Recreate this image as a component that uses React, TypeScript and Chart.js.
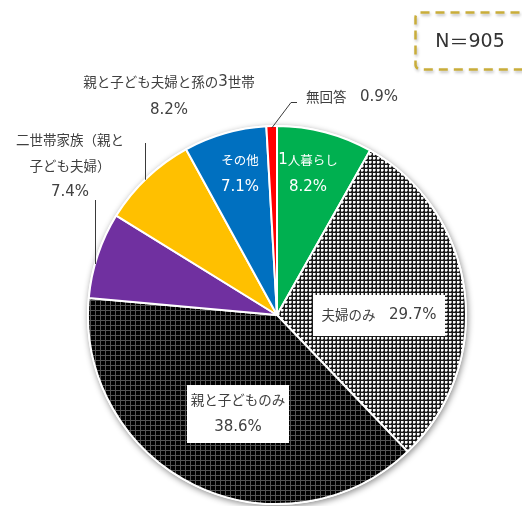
import React, { useEffect, useRef } from "react";
import { Chart, registerables } from "chart.js";

Chart.register(...registerables);

// ---- data ----
const categories = [
  "1人暮らし",
  "夫婦のみ",
  "親と子どものみ",
  "二世帯家族（親と子ども夫婦）",
  "親と子ども夫婦と孫の3世帯",
  "その他",
  "無回答",
];
const shares = [8.2, 29.7, 38.6, 7.4, 8.2, 7.1, 0.9];
const sampleSize = 905;

// ---- styles ----
const CJK_FONT = '"Noto Sans CJK JP", sans-serif';
const LAT_FONT = '"DejaVu Sans", "Noto Sans CJK JP", sans-serif';
const TEXT = "#404040";
const pct = (i: number) => `${shares[i].toFixed(1)}%`;

type LabelSpec = {
  lines: string[];
  dx: number; // centre offset from pie centre
  dy: number; // first line offset from pie centre
  gap: number;
  color: string;
  cjk: number;
  lat: number;
  box?: { w: number; h: number };
  leader?: { kind: "elbow" | "vertical"; slice: number; dx: number; dy: number; hx?: number };
};

function makeLabels(): LabelSpec[] {
  return [
    { lines: [categories[0], pct(0)], dx: 31, dy: -155, gap: 27, color: "#ffffff", cjk: 12.5, lat: 15 },
    { lines: [categories[5], pct(5)], dx: -37, dy: -155, gap: 27, color: "#ffffff", cjk: 12.5, lat: 15 },
    {
      lines: [`${categories[1]}　${pct(1)}`],
      dx: 102,
      dy: 0,
      gap: 0,
      color: TEXT,
      cjk: 13.5,
      lat: 15,
      box: { w: 132, h: 41 },
    },
    {
      lines: [categories[2], pct(2)],
      dx: -39,
      dy: 85,
      gap: 27,
      color: TEXT,
      cjk: 13.5,
      lat: 15,
      box: { w: 102, h: 58 },
    },
    {
      lines: [categories[4], pct(4)],
      dx: -108,
      dy: -233,
      gap: 28,
      color: TEXT,
      cjk: 13.5,
      lat: 15,
      leader: { kind: "vertical", slice: 4, dx: -132, dy: -172 },
    },
    {
      lines: ["二世帯家族（親と", "子ども夫婦）", pct(3)],
      dx: -207,
      dy: -175,
      gap: 26,
      color: TEXT,
      cjk: 13.5,
      lat: 15,
      leader: { kind: "vertical", slice: 3, dx: -182, dy: -115 },
    },
    {
      lines: [`${categories[6]}　${pct(6)}`],
      dx: 75,
      dy: -218,
      gap: 0,
      color: TEXT,
      cjk: 13.5,
      lat: 15,
      leader: { kind: "elbow", slice: 6, dx: 14, dy: -213, hx: 20 },
    },
  ];
}

function splitRuns(text: string) {
  const runs: { t: string; lat: boolean }[] = [];
  for (const ch of text) {
    const lat = ch.charCodeAt(0) < 128;
    const last = runs[runs.length - 1];
    if (last && last.lat === lat) last.t += ch;
    else runs.push({ t: ch, lat });
  }
  return runs;
}

function drawRich(
  ctx: CanvasRenderingContext2D,
  text: string,
  x: number,
  y: number,
  cjk: number,
  lat: number
) {
  const runs = splitRuns(text);
  let total = 0;
  const widths = runs.map((r) => {
    ctx.font = r.lat ? `${lat}px ${LAT_FONT}` : `${cjk}px ${CJK_FONT}`;
    const w = ctx.measureText(r.t).width;
    total += w;
    return w;
  });
  let cur = x - total / 2;
  ctx.textAlign = "left";
  ctx.textBaseline = "middle";
  runs.forEach((r, i) => {
    ctx.font = r.lat ? `${lat}px ${LAT_FONT}` : `${cjk}px ${CJK_FONT}`;
    ctx.fillText(r.t, cur, y);
    cur += widths[i];
  });
}

function makePattern(size: number, draw: (c: CanvasRenderingContext2D) => void) {
  const cv = document.createElement("canvas");
  cv.width = size;
  cv.height = size;
  const c = cv.getContext("2d")!;
  draw(c);
  return c.createPattern(cv, "repeat")!;
}

export default function App() {
  const ref = useRef<HTMLCanvasElement>(null);

  useEffect(() => {
    document.body.style.margin = "0";
    const canvas = ref.current!;
    const ctx0 = canvas.getContext("2d")!;

    const dots = makePattern(4, (c) => {
      c.fillStyle = "#1a1a1a";
      c.fillRect(0, 0, 4, 4);
      c.fillStyle = "#ffffff";
      c.fillRect(1, 1, 2, 2);
      c.fillStyle = "#9a9a9a";
      c.fillRect(1, 3, 2, 1);
      c.fillRect(3, 1, 1, 2);
    });
    const grid = makePattern(5, (c) => {
      c.fillStyle = "#000";
      c.fillRect(0, 0, 5, 5);
      c.fillStyle = "#555";
      c.fillRect(0, 0, 5, 1);
      c.fillRect(0, 0, 1, 5);
    });

    const labels = makeLabels();

    const shadowPlugin = {
      id: "pieShadow",
      beforeDatasetsDraw(chart: any) {
        const arc = chart.getDatasetMeta(0).data[0] as any;
        if (!arc) return;
        const ctx = chart.ctx as CanvasRenderingContext2D;
        ctx.save();
        ctx.beginPath();
        ctx.arc(arc.x, arc.y, arc.outerRadius + 1, 0, Math.PI * 2);
        ctx.fillStyle = "#fff";
        ctx.shadowColor = "rgba(0,0,0,0.45)";
        ctx.shadowBlur = 6;
        ctx.shadowOffsetX = 1;
        ctx.shadowOffsetY = 2;
        ctx.fill();
        ctx.restore();
      },
    };

    const labelPlugin = {
      id: "pieLabels",
      afterDatasetsDraw(chart: any) {
        const meta = chart.getDatasetMeta(0);
        const a0 = meta.data[0] as any;
        if (!a0) return;
        const cx = a0.x;
        const cy = a0.y;
        const r = a0.outerRadius;
        const ctx = chart.ctx as CanvasRenderingContext2D;
        ctx.save();

        for (const L of labels) {
          const x = cx + L.dx;
          const y0 = cy + L.dy;
          if (L.box) {
            const h = L.box.h;
            const midY = y0 + ((L.lines.length - 1) * L.gap) / 2;
            ctx.fillStyle = "#fff";
            ctx.fillRect(Math.round(x - L.box.w / 2), Math.round(midY - h / 2), L.box.w, h);
          }
          if (L.leader) {
            const ld = L.leader;
            ctx.strokeStyle = "#3a3a3a";
            ctx.lineWidth = 1;
            ctx.beginPath();
            if (ld.kind === "vertical") {
              const px = cx + ld.dx;
              const py = cy - Math.sqrt(Math.max(r * r - ld.dx * ld.dx, 0));
              ctx.moveTo(px + 0.5, cy + ld.dy);
              ctx.lineTo(px + 0.5, py);
            } else {
              const s = meta.data[ld.slice] as any;
              const mid = (s.startAngle + s.endAngle) / 2;
              const px = cx + Math.cos(mid) * (r - 2);
              const py = cy + Math.sin(mid) * (r - 2);
              ctx.moveTo(cx + (ld.hx ?? ld.dx), cy + ld.dy + 0.5);
              ctx.lineTo(cx + ld.dx, cy + ld.dy + 0.5);
              ctx.lineTo(px, py);
            }
            ctx.stroke();
          }
          ctx.fillStyle = L.color;
          L.lines.forEach((t, k) => drawRich(ctx, t, x, y0 + k * L.gap, L.cjk, L.lat));
        }

        // N box
        const bx = 415.5, by = 12.5, bw = 120, bh = 57;
        ctx.save();
        ctx.shadowColor = "rgba(0,0,0,0.25)";
        ctx.shadowBlur = 3;
        ctx.shadowOffsetX = 1;
        ctx.shadowOffsetY = 2;
        ctx.setLineDash([9, 6]);
        ctx.lineWidth = 2.5;
        ctx.strokeStyle = "#c9ad3a";
        ctx.beginPath();
        (ctx as any).roundRect(bx, by, bw, bh, 5);
        ctx.stroke();
        ctx.restore();
        ctx.fillStyle = "#333";
        drawRich(ctx, `N＝${sampleSize}`, 470, 42, 19, 19);
        ctx.restore();
      },
    };

    const chart = new Chart(ctx0, {
      type: "pie",
      data: {
        labels: categories,
        datasets: [
          {
            data: shares,
            backgroundColor: ["#00b050", dots, grid, "#7030a0", "#ffc000", "#0070c0", "#ff0000"],
            borderColor: "#ffffff",
            borderWidth: 2,
          },
        ],
      },
      options: {
        responsive: false,
        animation: false,
        events: [],
        layout: { padding: { left: 87, right: 55, top: 125, bottom: 1 } },
        plugins: { legend: { display: false }, tooltip: { enabled: false } },
      },
      plugins: [shadowPlugin, labelPlugin],
    } as any);

    return () => chart.destroy();
  }, []);

  return (
    <canvas
      ref={ref}
      width={522}
      height={506}
      style={{ display: "block", width: 522, height: 506 }}
    />
  );
}
